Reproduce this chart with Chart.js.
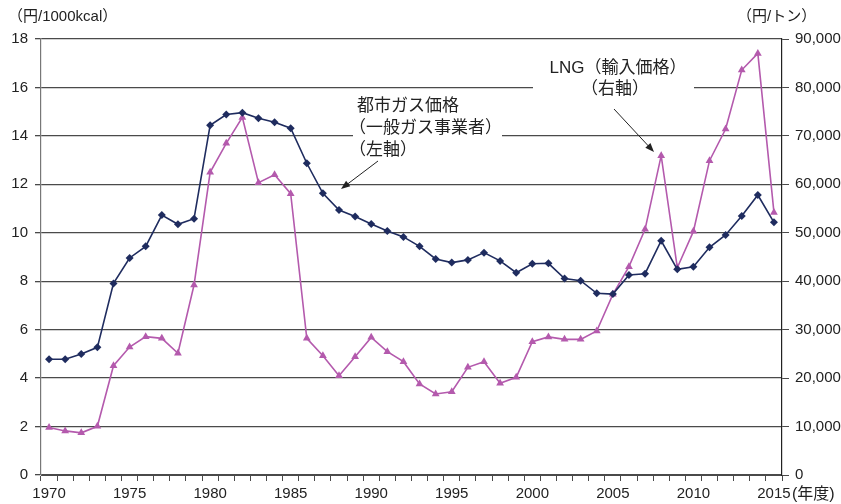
<!DOCTYPE html>
<html>
<head>
<meta charset="utf-8">
<script src="https://cdn.jsdelivr.net/npm/chart.js@4.4.1/dist/chart.umd.min.js"></script>
<style>
  html, body { margin: 0; padding: 0; background: #fff; }
  #chart { display: block; }
</style>
</head>
<body>
<canvas id="chart" width="841" height="504"></canvas>
<script>
// --- DATA ---

const years = [
    1970, 1971, 1972, 1973, 1974, 1975, 1976, 1977, 1978, 1979,
    1980, 1981, 1982, 1983, 1984, 1985, 1986, 1987, 1988, 1989,
    1990, 1991, 1992, 1993, 1994, 1995, 1996, 1997, 1998, 1999,
    2000, 2001, 2002, 2003, 2004, 2005, 2006, 2007, 2008, 2009,
    2010, 2011, 2012, 2013, 2014, 2015
];

// 都市ガス価格 (円/1000kcal, left axis)
const cityGas = [
    4.78, 4.78, 5.00, 5.27, 7.91, 8.96, 9.44, 10.73, 10.35, 10.58,
    14.44, 14.88, 14.96, 14.73, 14.56, 14.32, 12.87, 11.63, 10.94, 10.67,
    10.36, 10.07, 9.83, 9.44, 8.92, 8.77, 8.88, 9.18, 8.84, 8.35,
    8.72, 8.74, 8.11, 8.02, 7.50, 7.47, 8.26, 8.31, 9.67, 8.49,
    8.60, 9.40, 9.91, 10.69, 11.56, 10.43
];

// LNG 輸入価格 (円/トン, right axis)
const lngImport = [
    9800, 9100, 8700, 10050, 22560, 26420, 28550, 28210, 25120, 39220,
    62470, 68460, 73820, 60340, 61990, 58070, 28210, 24630, 20500, 24420,
    28410, 25450, 23390, 18800, 16720, 17200, 22230, 23390, 18920, 20160,
    27520, 28500, 28000, 28000, 29720, 37290, 43000, 50710, 65910, 42790,
    50290, 64880, 71410, 83590, 87030, 54210
];

const leftTicksMax = 18;
const rightTicksMax = 90000;

// --- STYLE ---

const GAS_COLOR = '#1f2c5f';
const LNG_COLOR = '#b45aad';
const GRID_COLOR = '#4a4a4a';
const TEXT_COLOR = '#222222';
const BASE_FONT = '"Liberation Sans", Arial, "Noto Sans CJK JP", sans-serif';
const JP_FONT = '"Liberation Sans", "Noto Sans CJK JP", sans-serif';

// --- ANNOTATIONS (axis titles, labels, arrows) ---

function drawArrow(ctx, x1, y1, x2, y2) {
    const ang = Math.atan2(y2 - y1, x2 - x1);
    const len = 9, wid = 3.5;
    ctx.save();
    ctx.strokeStyle = '#222';
    ctx.fillStyle = '#222';
    ctx.lineWidth = 1;
    ctx.beginPath();
    ctx.moveTo(x1, y1);
    ctx.lineTo(x2 - Math.cos(ang) * len * 0.8, y2 - Math.sin(ang) * len * 0.8);
    ctx.stroke();
    ctx.translate(x2, y2);
    ctx.rotate(ang);
    ctx.beginPath();
    ctx.moveTo(0, 0);
    ctx.lineTo(-len, -wid);
    ctx.lineTo(-len, wid);
    ctx.closePath();
    ctx.fill();
    ctx.restore();
}

const annotationPlugin = {
    id: 'annotations',
    beforeDatasetsDraw(chart) {
        const ctx = chart.ctx;
        ctx.save();
        // white boxes behind the text labels hide the gridlines
        ctx.fillStyle = '#ffffff';
        ctx.fillRect(353, 95, 149, 66);
        ctx.fillRect(533, 56, 161, 44);

        ctx.fillStyle = TEXT_COLOR;
        ctx.font = '17px ' + JP_FONT;
        ctx.textBaseline = 'middle';
        ctx.textAlign = 'left';
        ctx.fillText('都市ガス価格', 357, 106);
        ctx.fillText('（一般ガス事業者）', 349, 128);
        ctx.fillText('（左軸）', 349, 150);

        ctx.textAlign = 'center';
        ctx.fillText('LNG（輸入価格）', 618, 68);
        ctx.fillText('（右軸）', 615, 89);
        ctx.restore();
    },
    afterDraw(chart) {
        const ctx = chart.ctx;
        ctx.save();
        ctx.fillStyle = TEXT_COLOR;
        ctx.font = '15px ' + JP_FONT;
        ctx.textBaseline = 'middle';
        ctx.textAlign = 'left';
        ctx.fillText('（円/1000kcal）', 8, 17);
        ctx.fillText('（円/トン）', 737, 17);
        ctx.font = '16px ' + JP_FONT;
        ctx.fillText('(年度)', 792, 495);
        ctx.restore();

        drawArrow(ctx, 378, 161, 341, 189);
        drawArrow(ctx, 614, 109, 654, 152);
    }
};

// --- CHART ---

function buildChart() {
    const canvas = document.getElementById('chart');

    new Chart(canvas, {
        type: 'line',
        data: {
            labels: years,
            datasets: [
                {
                    label: '都市ガス価格（一般ガス事業者）',
                    data: cityGas,
                    yAxisID: 'y',
                    borderColor: GAS_COLOR,
                    backgroundColor: GAS_COLOR,
                    borderWidth: 1.6,
                    pointStyle: 'rectRot',
                    pointRadius: 4,
                    pointBorderWidth: 0,
                    tension: 0
                },
                {
                    label: 'LNG（輸入価格）',
                    data: lngImport,
                    yAxisID: 'y2',
                    borderColor: LNG_COLOR,
                    backgroundColor: LNG_COLOR,
                    borderWidth: 1.6,
                    pointStyle: 'triangle',
                    pointRadius: 4.5,
                    pointBorderWidth: 0,
                    tension: 0
                }
            ]
        },
        options: {
            responsive: false,
            animation: false,
            devicePixelRatio: 1,
            layout: { padding: { top: 39, left: 0, right: 0, bottom: 0 } },
            plugins: {
                legend: { display: false },
                tooltip: { enabled: false }
            },
            scales: {
                x: {
                    type: 'category',
                    offset: true,
                    afterFit(scale) { scale.height = 29; },
                    grid: {
                        offset: true,
                        drawOnChartArea: false,
                        drawTicks: true,
                        tickLength: 6,
                        color: GRID_COLOR
                    },
                    border: { color: GRID_COLOR, width: 1 },
                    ticks: {
                        autoSkip: false,
                        maxRotation: 0,
                        padding: 4,
                        color: TEXT_COLOR,
                        font: { family: BASE_FONT, size: 15 },
                        callback(value) {
                            const yr = years[value];
                            return yr % 5 === 0 ? String(yr) : '';
                        }
                    }
                },
                y: {
                    position: 'left',
                    min: 0,
                    max: leftTicksMax,
                    afterFit(scale) { scale.width = 41; },
                    grid: {
                        color: GRID_COLOR,
                        lineWidth: 1.3,
                        drawTicks: true,
                        tickLength: 6
                    },
                    border: { color: '#777', width: 1.2 },
                    ticks: {
                        stepSize: 2,
                        padding: 7,
                        color: TEXT_COLOR,
                        font: { family: BASE_FONT, size: 15 }
                    }
                },
                y2: {
                    position: 'right',
                    min: 0,
                    max: rightTicksMax,
                    afterFit(scale) { scale.width = 59; },
                    grid: {
                        drawOnChartArea: false,
                        drawTicks: true,
                        tickLength: 7,
                        color: GRID_COLOR
                    },
                    border: { color: '#222', width: 1.2 },
                    ticks: {
                        stepSize: 10000,
                        padding: 6,
                        color: TEXT_COLOR,
                        font: { family: BASE_FONT, size: 15 },
                        callback(value) {
                            return value === 0 ? '0' : value.toLocaleString('en-US');
                        }
                    }
                }
            }
        },
        plugins: [annotationPlugin]
    });
}

document.addEventListener('DOMContentLoaded', () => {
    buildChart();
});
</script>
</body>
</html>
